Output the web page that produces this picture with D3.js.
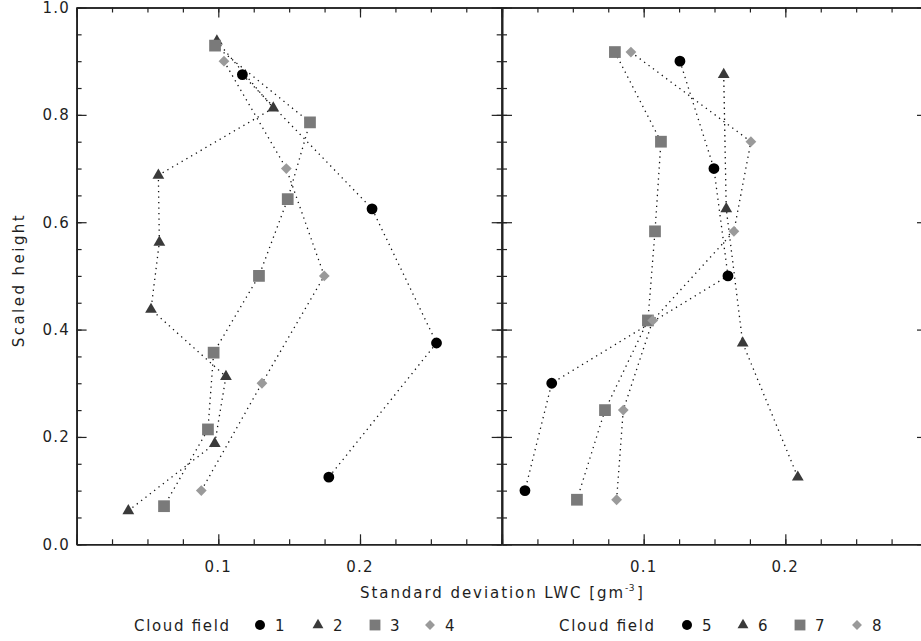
<!DOCTYPE html>
<html><head><meta charset="utf-8">
<script src="https://cdn.jsdelivr.net/npm/d3@7"></script>
<style>
html,body{margin:0;padding:0;background:#fff;}
svg{display:block;}
text{font-family:"DejaVu Sans",sans-serif;fill:#1e1e1e;font-weight:normal;}
</style></head>
<body>
<svg id="chart" width="921" height="641"></svg>
<script>
// ---- data ----
const fieldsLeft = ["1","2","3","4"];
const fieldsRight = ["5","6","7","8"];
// left panel
const f1_x = [0.117, 0.2085, 0.254, 0.178];
const f1_y = [0.875, 0.625, 0.375, 0.125];
const f2_x = [0.099, 0.1388, 0.0577, 0.0584, 0.0525, 0.1054, 0.0975, 0.0365];
const f2_y = [0.9375, 0.8125, 0.6875, 0.5625, 0.4375, 0.3125, 0.1875, 0.0625];
const f3_x = [0.0977, 0.1647, 0.149, 0.1287, 0.0967, 0.0927, 0.0617];
const f3_y = [0.929, 0.786, 0.643, 0.5, 0.357, 0.214, 0.071];
const f4_x = [0.104, 0.148, 0.1748, 0.1308, 0.088];
const f4_y = [0.9, 0.7, 0.5, 0.3, 0.1];
// right panel
const f5_x = [0.1256, 0.1496, 0.1595, 0.0351, 0.0162];
const f5_y = [0.9, 0.7, 0.5, 0.3, 0.1];
const f6_x = [0.1565, 0.1583, 0.1699, 0.2088];
const f6_y = [0.875, 0.625, 0.375, 0.125];
const f7_x = [0.0797, 0.1122, 0.108, 0.103, 0.0727, 0.0529];
const f7_y = [0.917, 0.75, 0.583, 0.417, 0.25, 0.083];
const f8_x = [0.091, 0.1757, 0.1637, 0.1064, 0.0856, 0.0809];
const f8_y = [0.917, 0.75, 0.583, 0.417, 0.25, 0.083];

const xTickLabels = [0.1, 0.2];
const yTickLabels = [0, 0.2, 0.4, 0.6, 0.8, 1.0];
const xTitle = "Standard deviation LWC [gm";
const yTitle = "Scaled height";
const legendTitle = "Cloud field";

// ---- layout ----
const svg = d3.select("#chart");
const y = d3.scaleLinear([0, 1], [544.3, 7.5]);
const xL = d3.scaleLinear([0, 0.3], [76.6, 501.7]);
const xR = d3.scaleLinear([0, 0.3], [502, 927]);

const symStyles = [
  {type: d3.symbolCircle, size: 92, fill: "#000000", rot: 0},
  {type: d3.symbolTriangle, size: 60, fill: "#3a3a3a", rot: 0},
  {type: d3.symbolSquare, size: 138, fill: "#7a7a7a", rot: 0},
  {type: d3.symbolSquare, size: 58, fill: "#9a9a9a", rot: 45}
];

const majorX = [0, 0.1, 0.2, 0.3];
const minorX = d3.range(0, 0.3001, 0.025);
const majorY = [0, 0.2, 0.4, 0.6, 0.8, 1.0];
const minorY = d3.range(0, 1.0001, 0.05);

const axisColor = "#222";

function styleAxis(g){
  g.selectAll("path.domain").attr("stroke", axisColor).attr("stroke-width", 1.6);
  g.selectAll(".tick line").attr("stroke", axisColor).attr("stroke-width", 1.2);
  g.selectAll(".tick text").remove();
}

function axisPair(make, scale, transform, minorVals, majorVals){
  const g1 = svg.append("g").attr("transform", transform);
  g1.call(make(scale).tickValues(minorVals).tickSizeInner(-5).tickSizeOuter(0));
  styleAxis(g1);
  const g2 = svg.append("g").attr("transform", transform);
  g2.call(make(scale).tickValues(majorVals).tickSizeInner(-10).tickSizeOuter(0));
  styleAxis(g2);
}

function drawPanel(x){
  axisPair(d3.axisBottom, x, `translate(0,${y(0)})`, minorX, majorX);
  axisPair(d3.axisTop, x, `translate(0,${y(1)})`, minorX, majorX);
  axisPair(d3.axisLeft, y, `translate(${x(0)},0)`, minorY, majorY);
  axisPair(d3.axisRight, y, `translate(${x(0.3)},0)`, minorY, majorY);
  svg.append("g").selectAll("text").data(xTickLabels).join("text")
    .attr("x", d => x(d)).attr("y", 572)
    .attr("text-anchor", "middle").attr("font-size", 15)
    .attr("letter-spacing", 1.2)
    .text(d3.format(".1f"));
}

drawPanel(xL);
drawPanel(xR);

// y tick labels
svg.append("g").selectAll("text").data(yTickLabels).join("text")
  .attr("x", 70).attr("y", d => y(d) + 5.5)
  .attr("text-anchor", "end").attr("font-size", 15)
  .attr("letter-spacing", 1.2)
  .text(d3.format(".1f"));

// y title
svg.append("text")
  .attr("transform", `translate(24,${y(0.49)}) rotate(-90)`)
  .attr("x", -66).attr("font-size", 15)
  .attr("textLength", 132).attr("lengthAdjust", "spacing")
  .text(yTitle);

// x title
svg.append("text").attr("x", 360).attr("y", 598)
  .attr("font-size", 15)
  .attr("textLength", 263).attr("lengthAdjust", "spacing")
  .text(xTitle);
svg.append("text").attr("x", 625).attr("y", 591)
  .attr("font-size", 9).attr("letter-spacing", 0.5).text("-3");
svg.append("text").attr("x", 637).attr("y", 598)
  .attr("font-size", 15).text("]");

// series
const line = (x) => d3.line().x(d => x(d[0])).y(d => y(d[1]));
function drawSeries(x, xs, ys){
  const pts = xs.map((v, i) => [v, ys[i]]);
  svg.append("path").datum(pts)
    .attr("d", line(x))
    .attr("fill", "none").attr("stroke", "#111")
    .attr("stroke-width", 1.3).attr("stroke-dasharray", "1.3,4.2");
  return pts;
}
function drawMarkers(x, pts, st){
  const sym = d3.symbol().type(st.type).size(st.size);
  svg.append("g").selectAll("path").data(pts).join("path")
    .attr("d", sym)
    .attr("transform", d => `translate(${x(d[0])},${y(d[1])}) rotate(${st.rot})`)
    .attr("fill", st.fill);
}
const leftSets = [[f1_x,f1_y],[f2_x,f2_y],[f3_x,f3_y],[f4_x,f4_y]];
const rightSets = [[f5_x,f5_y],[f6_x,f6_y],[f7_x,f7_y],[f8_x,f8_y]];
const lp = leftSets.map(s => drawSeries(xL, s[0], s[1]));
const rp = rightSets.map(s => drawSeries(xR, s[0], s[1]));
lp.forEach((p,i) => drawMarkers(xL, p, symStyles[i]));
rp.forEach((p,i) => drawMarkers(xR, p, symStyles[i]));

// legends
function legend(x0, labels, offs){
  const ly = 625;
  svg.append("text").attr("x", x0).attr("y", ly + 5.5).attr("font-size", 15)
    .attr("textLength", 95).attr("lengthAdjust", "spacing").text(legendTitle);
  labels.forEach((lab, i) => {
    const st = symStyles[i];
    const sym = d3.symbol().type(st.type).size(st.size * 0.85);
    svg.append("path").attr("d", sym)
      .attr("transform", `translate(${x0 + offs[i]},${ly}) rotate(${st.rot})`)
      .attr("fill", st.fill);
    svg.append("text").attr("x", x0 + offs[i] + 15).attr("y", ly + 5.5)
      .attr("font-size", 15).text(lab);
  });
}
legend(134, fieldsLeft, [126, 184, 241, 296]);
legend(559, fieldsRight, [128, 184, 241, 298]);
</script>
</body></html>
